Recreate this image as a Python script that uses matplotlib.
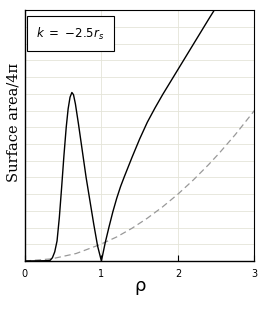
import numpy as np
import matplotlib
matplotlib.use("Agg")
import matplotlib.pyplot as plt

# black curve: surface area / 4pi for k = -2.5 r_s
rho_k = [0.0, 0.15, 0.30, 0.33, 0.36, 0.39, 0.42, 0.45, 0.48, 0.51, 0.54, 0.565, 0.59,
         0.614, 0.635, 0.66, 0.70, 0.75, 0.80, 0.85, 0.90, 0.95, 1.0,
         1.05, 1.10, 1.15, 1.20, 1.25, 1.30, 1.40, 1.50, 1.60, 1.70, 1.80, 1.90,
         2.0, 2.2, 2.4, 2.475]
area_k = [0.0, 0.01, 0.02, 0.04, 0.2, 0.55, 1.2, 2.6, 4.4, 6.3, 8.0, 9.1, 9.8,
          10.08, 9.95, 9.4, 8.2, 6.6, 5.0, 3.6, 2.2, 0.9, 0.0,
          1.1, 2.05, 2.95, 3.75, 4.45, 5.05, 6.2, 7.3, 8.3, 9.15, 9.95, 10.7,
          11.45, 12.95, 14.45, 15.0]

# grey dashed reference curve
rho_ref = [0.0, 0.35, 0.67, 0.98, 1.20, 1.40, 1.60, 1.80, 2.0, 2.20, 2.40, 2.54, 2.75, 3.0]
area_ref = [0.0, 0.13, 0.45, 0.98, 1.44, 1.96, 2.56, 3.24, 4.0, 4.84, 5.76, 6.45, 7.56, 9.0]

fig = plt.figure(figsize=(2.65, 3.10), dpi=100)
ax = fig.add_axes([0.094, 0.158, 0.866, 0.809])

ax.plot(rho_ref, area_ref, color="#999999", lw=0.9, ls=(0, (5, 3)))
ax.plot(rho_k, area_k, color="black", lw=1.0)

ax.set_xlim(0, 3)
ax.set_ylim(0, 15)
ax.set_xticks([0, 1, 2, 3])
ax.set_xticklabels(["0", "1", "2", "3"], fontsize=7)
ax.set_yticks(np.arange(0, 16, 1))
ax.tick_params(axis="y", left=False, labelleft=False)
ax.tick_params(axis="x", direction="in", length=4, width=0.8, pad=6)
ax.grid(True, color="#e4e4d8", lw=0.6)
ax.set_axisbelow(True)
for sp in ax.spines.values():
    sp.set_linewidth(0.8)
ax.spines["left"].set_linewidth(1.0)
ax.spines["bottom"].set_linewidth(1.0)

ax.set_xlabel("ρ", fontsize=13, labelpad=-2)
ax.set_ylabel("Surface area/4π", fontsize=10.5, family="DejaVu Serif")
ax.yaxis.set_label_coords(-0.02, 0.552)

ax.text(0.197, 0.906, r"$k\ =\ {-}2.5r_s$", transform=ax.transAxes, fontsize=8.5,
        ha="center", va="center", family="DejaVu Serif",
        bbox=dict(boxstyle="square,pad=0.8", fc="white", ec="black", lw=0.8))

fig.savefig("out.png", dpi=100)
